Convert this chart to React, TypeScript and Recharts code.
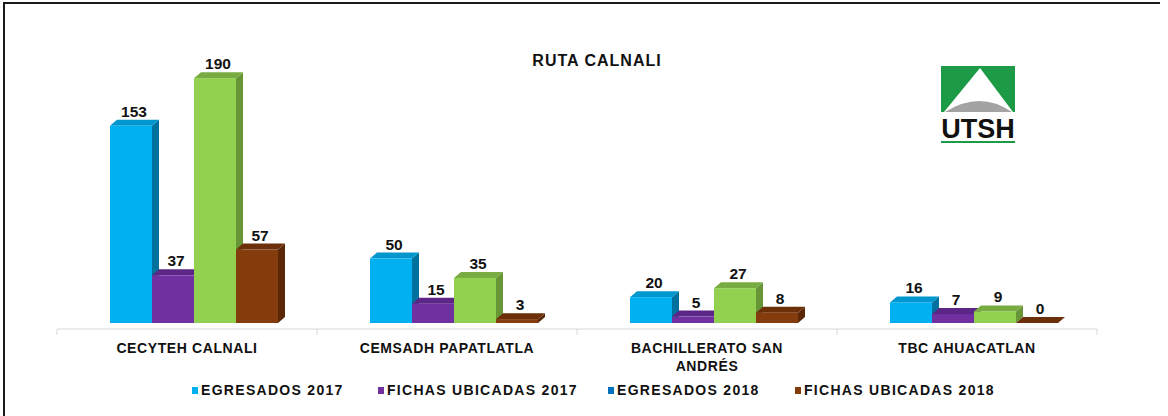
import { BarChart, Bar, XAxis, YAxis, Legend, LabelList } from "recharts";

const categories = ["CECYTEH CALNALI", "CEMSADH PAPATLATLA", "BACHILLERATO SAN ANDRÉS", "TBC AHUACATLAN"];
const egresados2017 = [153, 50, 20, 16];
const fichas2017 = [37, 15, 5, 7];
const egresados2018 = [190, 35, 27, 9];
const fichas2018 = [57, 3, 8, 0];

const seriesNames = ["EGRESADOS 2017", "FICHAS UBICADAS 2017", "EGRESADOS 2018", "FICHAS UBICADAS 2018"];

const data = categories.map((name, i) => ({
  name,
  e17: egresados2017[i],
  f17: fichas2017[i],
  e18: egresados2018[i],
  f18: fichas2018[i],
}));

// colours: front face, top face, side face, legend swatch
const series = [
  { key: "e17", front: "#00B0F0", top: "#0096CE", side: "#00719E", legend: "#00B0F0" },
  { key: "f17", front: "#7030A0", top: "#5C2686", side: "#4B1F6E", legend: "#7030A0" },
  { key: "e18", front: "#92D050", top: "#78AC42", side: "#689637", legend: "#0070C0" },
  { key: "f18", front: "#843C0C", top: "#6B300A", side: "#5A2807", legend: "#843C0C" },
];

const FONT = "'Liberation Sans', Arial, sans-serif";
// 3d projection of the front face and the bar depth
const SHIFT_X = 7;
const SHIFT_Y = 6;
const DEPTH_X = 7;
const DEPTH_Y = 6;

const make3D = (s: any) => (props: any) => {
  const { x, y, width, height } = props;
  if (x == null || y == null) return null;
  const fx = x + SHIFT_X;
  const fy = y - SHIFT_Y;
  const h = Math.max(height || 0, 0);
  const bottom = fy + h;
  const w = width;
  return (
    <g>
      <path
        d={`M${fx + w},${fy} L${fx + w + DEPTH_X},${fy - DEPTH_Y} L${fx + w + DEPTH_X},${bottom - DEPTH_Y} L${fx + w},${bottom} Z`}
        fill={s.side}
      />
      <path
        d={`M${fx},${fy} L${fx + DEPTH_X},${fy - DEPTH_Y} L${fx + w + DEPTH_X},${fy - DEPTH_Y} L${fx + w},${fy} Z`}
        fill={s.top}
      />
      {h > 0 && <rect x={fx} y={fy} width={w} height={h} fill={s.front} />}
    </g>
  );
};

const ValueLabel = (props: any) => {
  const { x, y, width, value } = props;
  return (
    <text
      x={x + SHIFT_X + width / 2 + 3}
      y={y - SHIFT_Y - DEPTH_Y - 3}
      textAnchor="middle"
      fontFamily={FONT}
      fontWeight="bold"
      fontSize={15.5}
      fill="#111"
    >
      {value}
    </text>
  );
};

const wrap = (label: string, max: number) => {
  const words = label.split(" ");
  const lines: string[] = [];
  let cur = "";
  words.forEach((w) => {
    const next = cur ? cur + " " + w : w;
    if (next.length > max && cur) {
      lines.push(cur);
      cur = w;
    } else cur = next;
  });
  if (cur) lines.push(cur);
  return lines;
};

const CategoryTick = (props: any) => {
  const { x, y, payload, index, width } = props;
  const band = width / categories.length;
  const lines = wrap(payload.value, 20);
  return (
    <g>
      <line x1={x - band / 2} x2={x - band / 2} y1={y} y2={y + 6} stroke="#D9D9D9" />
      {index === categories.length - 1 && (
        <line x1={x + band / 2} x2={x + band / 2} y1={y} y2={y + 6} stroke="#D9D9D9" />
      )}
      {lines.map((l, i) => (
        <text
          key={i}
          x={x}
          y={y + 24 + i * 18}
          textAnchor="middle"
          fontFamily={FONT}
          fontWeight="bold"
          fontSize={14}
          letterSpacing={0.6}
          fill="#111"
        >
          {l}
        </text>
      ))}
    </g>
  );
};

const itemWidths = [186, 230, 187, 200];

const LegendContent = () => (
  <div style={{ display: "flex", paddingLeft: 192, fontFamily: FONT }}>
    {series.map((s, i) => (
      <div key={s.key} style={{ width: itemWidths[i], display: "flex", alignItems: "center" }}>
        <span style={{ width: 6, height: 7, background: s.legend, marginRight: 3, display: "inline-block" }} />
        <span style={{ fontWeight: "bold", fontSize: 14, letterSpacing: 1.3, color: "#111", whiteSpace: "nowrap" }}>
          {seriesNames[i]}
        </span>
      </div>
    ))}
  </div>
);

const Logo = () => (
  <svg width={76} height={80} style={{ position: "absolute", left: 941, top: 66 }}>
    <rect x={0} y={0} width={74} height={46} fill="#1D9A45" />
    <path d="M39,2 L3,46 L72,46 Z" fill="#fff" />
    <path d="M4,46 Q39,24 71,46 Z" fill="#A3A3A3" />
    <text x={37} y={72} textAnchor="middle" fontFamily={FONT} fontWeight="bold" fontSize={27} fill="#111">
      UTSH
    </text>
    <rect x={0} y={75} width={74} height={2} fill="#1D9A45" />
  </svg>
);

export default function App() {
  return (
    <div style={{ position: "absolute", left: 0, top: 0, width: 1168, height: 416, background: "#fff", overflow: "hidden" }}>
      <div
        style={{
          position: "absolute",
          left: 3,
          top: 2,
          width: 1155,
          height: 430,
          borderLeft: "2px solid #1a1a1a",
          borderTop: "2px solid #1a1a1a",
        }}
      />
      <div
        style={{
          position: "absolute",
          left: 497,
          top: 52,
          width: 200,
          textAlign: "center",
          fontFamily: FONT,
          fontWeight: "bold",
          fontSize: 16,
          letterSpacing: 1,
          color: "#111",
        }}
      >
        RUTA CALNALI
      </div>
      <Logo />
      <div style={{ position: "absolute", left: 0, top: 0 }}>
        <BarChart
          width={1168}
          height={416}
          data={data}
          margin={{ top: 30, right: 71, bottom: 4, left: 57 }}
          barGap={0}
          barSize={42}
        >
          <XAxis
            dataKey="name"
            axisLine={{ stroke: "#D9D9D9" }}
            tickLine={false}
            tickSize={0}
            tickMargin={0}
            height={53}
            interval={0}
            tick={<CategoryTick />}
          />
          <YAxis hide domain={[0, 232]} />
          <Legend verticalAlign="bottom" height={30} wrapperStyle={{ left: 0, width: 1168 }} content={<LegendContent />} />
          {series.map((s) => (
            <Bar key={s.key} dataKey={s.key} isAnimationActive={false} shape={make3D(s)}>
              <LabelList dataKey={s.key} content={<ValueLabel />} />
            </Bar>
          ))}
        </BarChart>
      </div>
    </div>
  );
}
